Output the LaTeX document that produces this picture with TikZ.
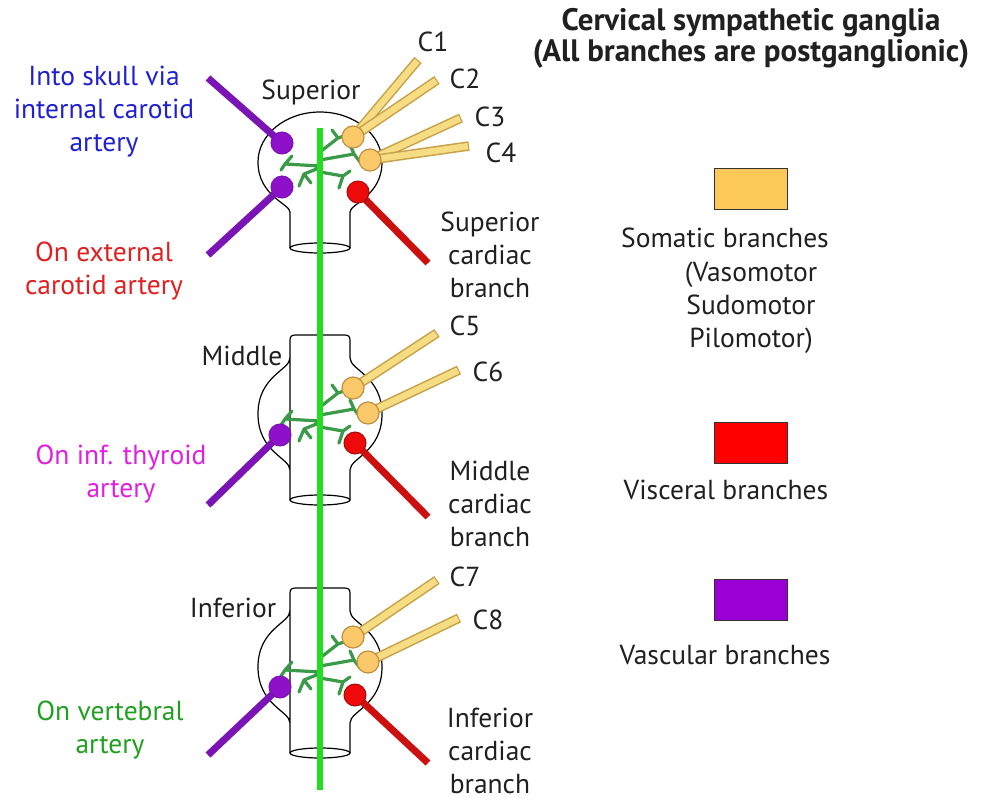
\documentclass[tikz,border=0pt]{standalone}
\usepackage{fontspec}
\setmainfont{PT Sans}
\definecolor{trunkgreen}{HTML}{22DD22}
\definecolor{twiggreen}{HTML}{3A9A48}
\definecolor{vascline}{HTML}{7A14B4}
\definecolor{vascsomac}{HTML}{8E10C8}
\definecolor{viscline}{HTML}{CC1010}
\definecolor{viscsomac}{HTML}{EE0A0A}
\definecolor{stripedge}{HTML}{C8A048}
\definecolor{stripfill}{HTML}{F6DC82}
\definecolor{ysomafill}{HTML}{FBC86A}
\definecolor{ysomaedge}{HTML}{C09040}
\definecolor{legyellow}{HTML}{FDC85A}
\definecolor{legred}{HTML}{FF0000}
\definecolor{legpurple}{HTML}{9A00D6}
\definecolor{txtblue}{HTML}{2020D0}
\definecolor{txtred}{HTML}{E02020}
\definecolor{txtmag}{HTML}{E020E0}
\definecolor{txtgreen}{HTML}{20A020}
\definecolor{txtdark}{HTML}{202020}
\tikzset{
  gang/.style={draw=black, line width=1.2pt, line join=round},
  twig/.style={draw=twiggreen, line width=3.2pt, line cap=round, line join=round},
  trunk/.style={draw=trunkgreen, line width=6pt},
  vasc/.style={draw=vascline, line width=7pt},
  visc/.style={draw=viscline, line width=7pt},
  stripout/.style={draw=stripedge, line width=9.5pt},
  stripin/.style={draw=stripfill, line width=6.5pt, shorten >=1.2pt},
  vsoma/.style={circle, fill=vascsomac, draw=vascline, line width=1pt, minimum size=22pt, inner sep=0pt},
  rsoma/.style={circle, fill=viscsomac, draw=viscline!80!black, line width=1pt, minimum size=22pt, inner sep=0pt},
  ysoma/.style={circle, fill=ysomafill, draw=ysomaedge, line width=1.2pt, minimum size=22pt, inner sep=0pt},
  lbl/.style={text=txtdark, align=center, inner sep=0pt},
  legbox/.style={draw=black!80, line width=1.5pt, minimum width=73pt, minimum height=41pt, inner sep=0pt}
}
% ganglion with top neck (middle, inferior); #1 = y of widest part
\newcommand\gfull[1]{%
  \draw[gang] (290,#1+86) -- (290,#1-56) .. controls (290,#1-44) and (258,#1-38) .. (258,#1)
    .. controls (258,#1+38) and (290,#1+44) .. (290,#1+56);
  \draw[gang] (290,#1-56) -- (290,#1-74) .. controls (290,#1-78) and (292,#1-79) .. (296,#1-79)
    -- (344,#1-79) .. controls (348,#1-79) and (350,#1-78) .. (350,#1-74) -- (350,#1-56)
    .. controls (350,#1-44) and (382,#1-38) .. (382,#1)
    .. controls (382,#1+38) and (350,#1+44) .. (350,#1+56) -- (350,#1+86);
  \draw[gang] (320,#1+86) ellipse [x radius=30, y radius=5];
}
% superior ganglion (round top)
\newcommand\gtop[1]{%
  \draw[gang] (290,#1+86) -- (290,#1+50) .. controls (290,#1+42) and (258,#1+34) .. (258,#1)
    .. controls (258,#1-27.6) and (285.8,#1-50) .. (320,#1-50)
    .. controls (354.2,#1-50) and (382,#1-27.6) .. (382,#1)
    .. controls (382,#1+34) and (350,#1+42) .. (350,#1+50) -- (350,#1+86);
  \draw[gang] (320,#1+86) ellipse [x radius=30, y radius=5];
}
% green intraganglionic branches; #1 = anchor y
\newcommand\gtree[1]{%
  \draw[twig] (320,#1-12) -- (338,#1-26) (332,#1-34) -- (338,#1-26) -- (347,#1-29)
    (320,#1-4) -- (354,#1-10) (350,#1-19) -- (354,#1-10) -- (360,#1-2)
    (320,#1+2) -- (285,#1) (292,#1-8) -- (285,#1) -- (281,#1+6)
    (319,#1+4) -- (304,#1+10) (299,#1+22) -- (304,#1+10) -- (311,#1+19)
    (320,#1+8) -- (343,#1+12) (339,#1+24) -- (343,#1+12) -- (350,#1+7);
}
\begin{document}
\begin{tikzpicture}[x=1pt,y=-1pt,font=\fontsize{27.5}{33}\selectfont]
\useasboundingbox (0,0) rectangle (983,801);
\fill[white] (0,0) rectangle (983,801);

% ---------- ganglia outlines ----------
\gtop{162}
\gfull{414}
\gfull{667}

% ---------- internal branches ----------
\gtree{164}
\gtree{419}
\gtree{670}

% ---------- sympathetic trunk ----------
\coordinate (trunktop) at (320,128);
\coordinate (trunkbot) at (320,790);
\draw[trunk] (trunktop) -- (trunkbot);

% ---------- soma positions ----------
\coordinate (sy1) at (353,137);
\coordinate (sy2) at (370,160);
\coordinate (sv1) at (282,143);
\coordinate (sv2) at (282,187);
\coordinate (sr1) at (358,192);
\coordinate (my1) at (353,388);
\coordinate (my2) at (368,413);
\coordinate (mv1) at (280,435);
\coordinate (mr1) at (355,443);
\coordinate (iy1) at (353,637);
\coordinate (iy2) at (368,662);
\coordinate (iv1) at (280,687);
\coordinate (ir1) at (355,695);

% ---------- branch end points ----------
\coordinate (ec1) at (418,60);
\coordinate (ec2) at (437,80);
\coordinate (ec3) at (461,118);
\coordinate (ec4) at (469,146);
\coordinate (ec5) at (437,333);
\coordinate (ec6) at (459,370);
\coordinate (ec7) at (437,580);
\coordinate (ec8) at (459,618);
\coordinate (ev1) at (208,78);
\coordinate (ev2) at (208,255);
\coordinate (ev3) at (208,505);
\coordinate (ev4) at (208,755);
\coordinate (er1) at (428,263);
\coordinate (er2) at (428,517);
\coordinate (er3) at (428,763);

% ---------- somatic (yellow) branches ----------
\foreach \s/\e in {sy1/ec1, sy1/ec2, sy2/ec3, sy2/ec4, my1/ec5, my2/ec6, iy1/ec7, iy2/ec8}{
  \draw[stripout] (\s) -- (\e);
  \draw[stripin] (\s) -- (\e);
}
% ---------- vascular (purple) branches ----------
\draw[vasc] (sv1) -- (ev1);
\draw[vasc] (sv2) -- (ev2);
\draw[vasc] (mv1) -- (ev3);
\draw[vasc] (iv1) -- (ev4);
% ---------- visceral (red) branches ----------
\draw[visc] (sr1) -- (er1);
\draw[visc] (mr1) -- (er2);
\draw[visc] (ir1) -- (er3);

% ---------- somata ----------
\node[ysoma] (ny1) at (sy1) {};
\node[ysoma] (ny2) at (sy2) {};
\node[vsoma] (nv1) at (sv1) {};
\node[vsoma] (nv2) at (sv2) {};
\node[rsoma] (nr1) at (sr1) {};
\node[ysoma] (ny3) at (my1) {};
\node[ysoma] (ny4) at (my2) {};
\node[vsoma] (nv3) at (mv1) {};
\node[rsoma] (nr2) at (mr1) {};
\node[ysoma] (ny5) at (iy1) {};
\node[ysoma] (ny6) at (iy2) {};
\node[vsoma] (nv4) at (iv1) {};
\node[rsoma] (nr3) at (ir1) {};

% ---------- labels ----------
\node[lbl] (lsup) at (311,92) {Superior};
\node[lbl] (lmid) at (242,356) {Middle};
\node[lbl] (linf) at (233,608) {Inferior};

\node[lbl] (lc1) at (433,42) {C1};
\node[lbl] (lc2) at (465,79) {C2};
\node[lbl] (lc3) at (490,117) {C3};
\node[lbl] (lc4) at (501,153) {C4};
\node[lbl] (lc5) at (465,326) {C5};
\node[lbl] (lc6) at (488,372) {C6};
\node[lbl] (lc7) at (465,577) {C7};
\node[lbl] (lc8) at (488,620) {C8};

\node[lbl] (lcard1) at (490,255) {Superior\\cardiac\\branch};
\node[lbl] (lcard2) at (490,504) {Middle\\cardiac\\branch};
\node[lbl] (lcard3) at (490,751) {Inferior\\cardiac\\branch};

\node[lbl, text=txtblue] (lskull) at (104,112) {Into skull via\\internal carotid\\artery};
\node[lbl, text=txtred] (lext) at (104,271) {On external\\carotid artery};
\node[lbl, text=txtmag] (lthy) at (121,474) {On inf. thyroid\\artery};
\node[lbl, text=txtgreen] (lvert) at (110,730) {On vertebral\\artery};

% ---------- title ----------
\node[lbl, font=\fontsize{31}{31}\selectfont\bfseries] (title) at (751,38)
  {Cervical sympathetic ganglia\\(All branches are postganglionic)};

% ---------- legend ----------
\node[legbox, fill=legyellow] (boxsom) at (751,189) {};
\node[lbl] (tsom) at (725,238) {Somatic branches};
\node[lbl] (tsom2) at (751,308) {(Vasomotor\\Sudomotor\\Pilomotor)};
\node[legbox, fill=legred] (boxvis) at (751,443) {};
\node[lbl] (tvis) at (726,490) {Visceral branches};
\node[legbox, fill=legpurple] (boxvas) at (751,600) {};
\node[lbl] (tvas) at (725,655) {Vascular branches};
\end{tikzpicture}
\end{document}
